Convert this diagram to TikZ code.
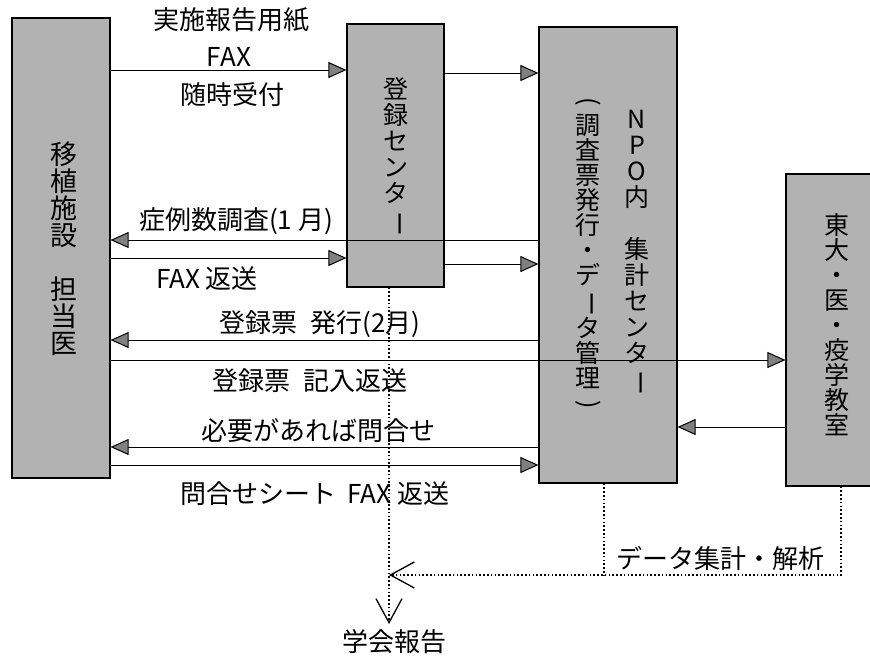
\documentclass[tikz,border=0pt]{standalone}
\usepackage{fontspec}
\usepackage{graphicx}
\newfontfamily\jp{Noto Sans CJK JP}
\usetikzlibrary{arrows.meta}
\newcommand\vbar{\rotatebox[origin=c]{-90}{ー}}
\newcommand\vopen{\rotatebox[origin=c]{-90}{(}}
\newcommand\vclose{\rotatebox[origin=c]{-90}{)}}
\begin{document}
\begin{tikzpicture}[x=1pt,y=-1pt,
  box/.style={draw=black, line width=1.2pt, fill=black!30, inner sep=0pt},
  vtext/.style={font=\jp\fontsize{24}{26}\selectfont, align=center, inner sep=0pt},
  lbl/.style={font=\jp\fontsize{26}{30}\selectfont, inner sep=0pt},
  arr/.style={line width=1pt, -{Triangle[length=18pt,width=16pt,fill=black!50]}},
  dline/.style={line width=1.6pt, dash pattern=on 1.6pt off 2.2pt},
  openarr/.style={-{Straight Barb[length=24pt,width=26pt,line width=1.3pt]}}
]
\useasboundingbox (0,0) rectangle (870,659);
\clip (0,0) rectangle (870,659);

% boxes
\node[box, minimum width=98pt, minimum height=460pt] (fac) at (61,248) {};
\node[box, minimum width=97pt, minimum height=263pt] (reg) at (395.5,155.5) {};
\node[box, minimum width=138pt, minimum height=456pt] (npo) at (608,255) {};
\node[box, minimum width=102pt, minimum height=312pt] (todai) at (837,330) {};

% box texts
\node[vtext, font=\jp\fontsize{27}{27}\selectfont] (facT) at (64,249) {移\\植\\施\\設\\\mbox{}\\担\\当\\医};
\node[vtext, font=\jp\fontsize{25}{26}\selectfont] (regT) at (396,157) {登\\録\\セ\\ン\\タ\\\vbar};
\node[vtext, font=\jp\fontsize{25}{26}\selectfont] (npoR) at (637,253) {N\\P\\O\\内\\\mbox{}\\集\\計\\セ\\ン\\タ\\\vbar};
\node[vtext, font=\jp\fontsize{25}{25}\selectfont] (npoL) at (588,255) {\vopen\\調\\査\\票\\発\\行\\・\\デ\\\vbar\\タ\\管\\理\\\vclose};
\node[vtext, font=\jp\fontsize{25}{25}\selectfont] (todaiT) at (837,325) {東\\大\\・\\医\\・\\疫\\学\\教\\室};

% y levels
\coordinate (ya) at (0,70);
\coordinate (yb) at (0,73);
\coordinate (yc) at (0,240);
\coordinate (yd) at (0,258);
\coordinate (ye) at (0,264);
\coordinate (yf) at (0,340);
\coordinate (yg) at (0,360);
\coordinate (yh) at (0,427);
\coordinate (yi) at (0,447);
\coordinate (yj) at (0,465);

% arrows
\draw[arr] (fac.east |- ya) -- (reg.west |- ya);
\draw[arr] (reg.east |- yb) -- (npo.west |- yb);
\draw[arr] (npo.west |- yc) -- (fac.east |- yc);
\draw[arr] (fac.east |- yd) -- (reg.west |- yd);
\draw[arr] (reg.east |- ye) -- (npo.west |- ye);
\draw[arr] (npo.west |- yf) -- (fac.east |- yf);
\draw[arr] (fac.east |- yg) -- (todai.west |- yg);
\draw[arr] (todai.west |- yh) -- (npo.east |- yh);
\draw[arr] (npo.west |- yi) -- (fac.east |- yi);
\draw[arr] (fac.east |- yj) -- (npo.west |- yj);

% labels
\node[lbl] (t1) at (231,20) {実施報告用紙};
\node[lbl] (t2) at (229,57) {FAX};
\node[lbl] (t3) at (232,95) {随時受付};
\node[lbl] (t4) at (236,221) {症例数調査(1 月)};
\node[lbl] (t5) at (207,279) {FAX 返送};
\node[lbl] (t6) at (320,324) {登録票\hspace{0.5em}発行(2月)};
\node[lbl] (t7) at (310,381) {登録票\hspace{0.5em}記入返送};
\node[lbl] (t8) at (318,431) {必要があれば問合せ};
\node[lbl] (t9) at (315,494) {問合せシート\hspace{0.4em}FAX 返送};
\node[lbl] (t10) at (720,558) {データ集計・解析};
\node[lbl] (report) at (394,642) {学会報告};

% dotted flows
\coordinate (xr) at (389,0);
\coordinate (xn) at (604,0);
\coordinate (xt) at (841,0);
\coordinate (yk) at (0,575);
\coordinate (jn) at (389,575);
\coordinate (vt) at (389,624);
\draw[dline, openarr] (reg.south -| xr) -- (vt);
\draw[dline, openarr] (todai.south -| xt) |- (jn);
\draw[dline] (npo.south -| xn) -- (xn |- yk);
\end{tikzpicture}
\end{document}
